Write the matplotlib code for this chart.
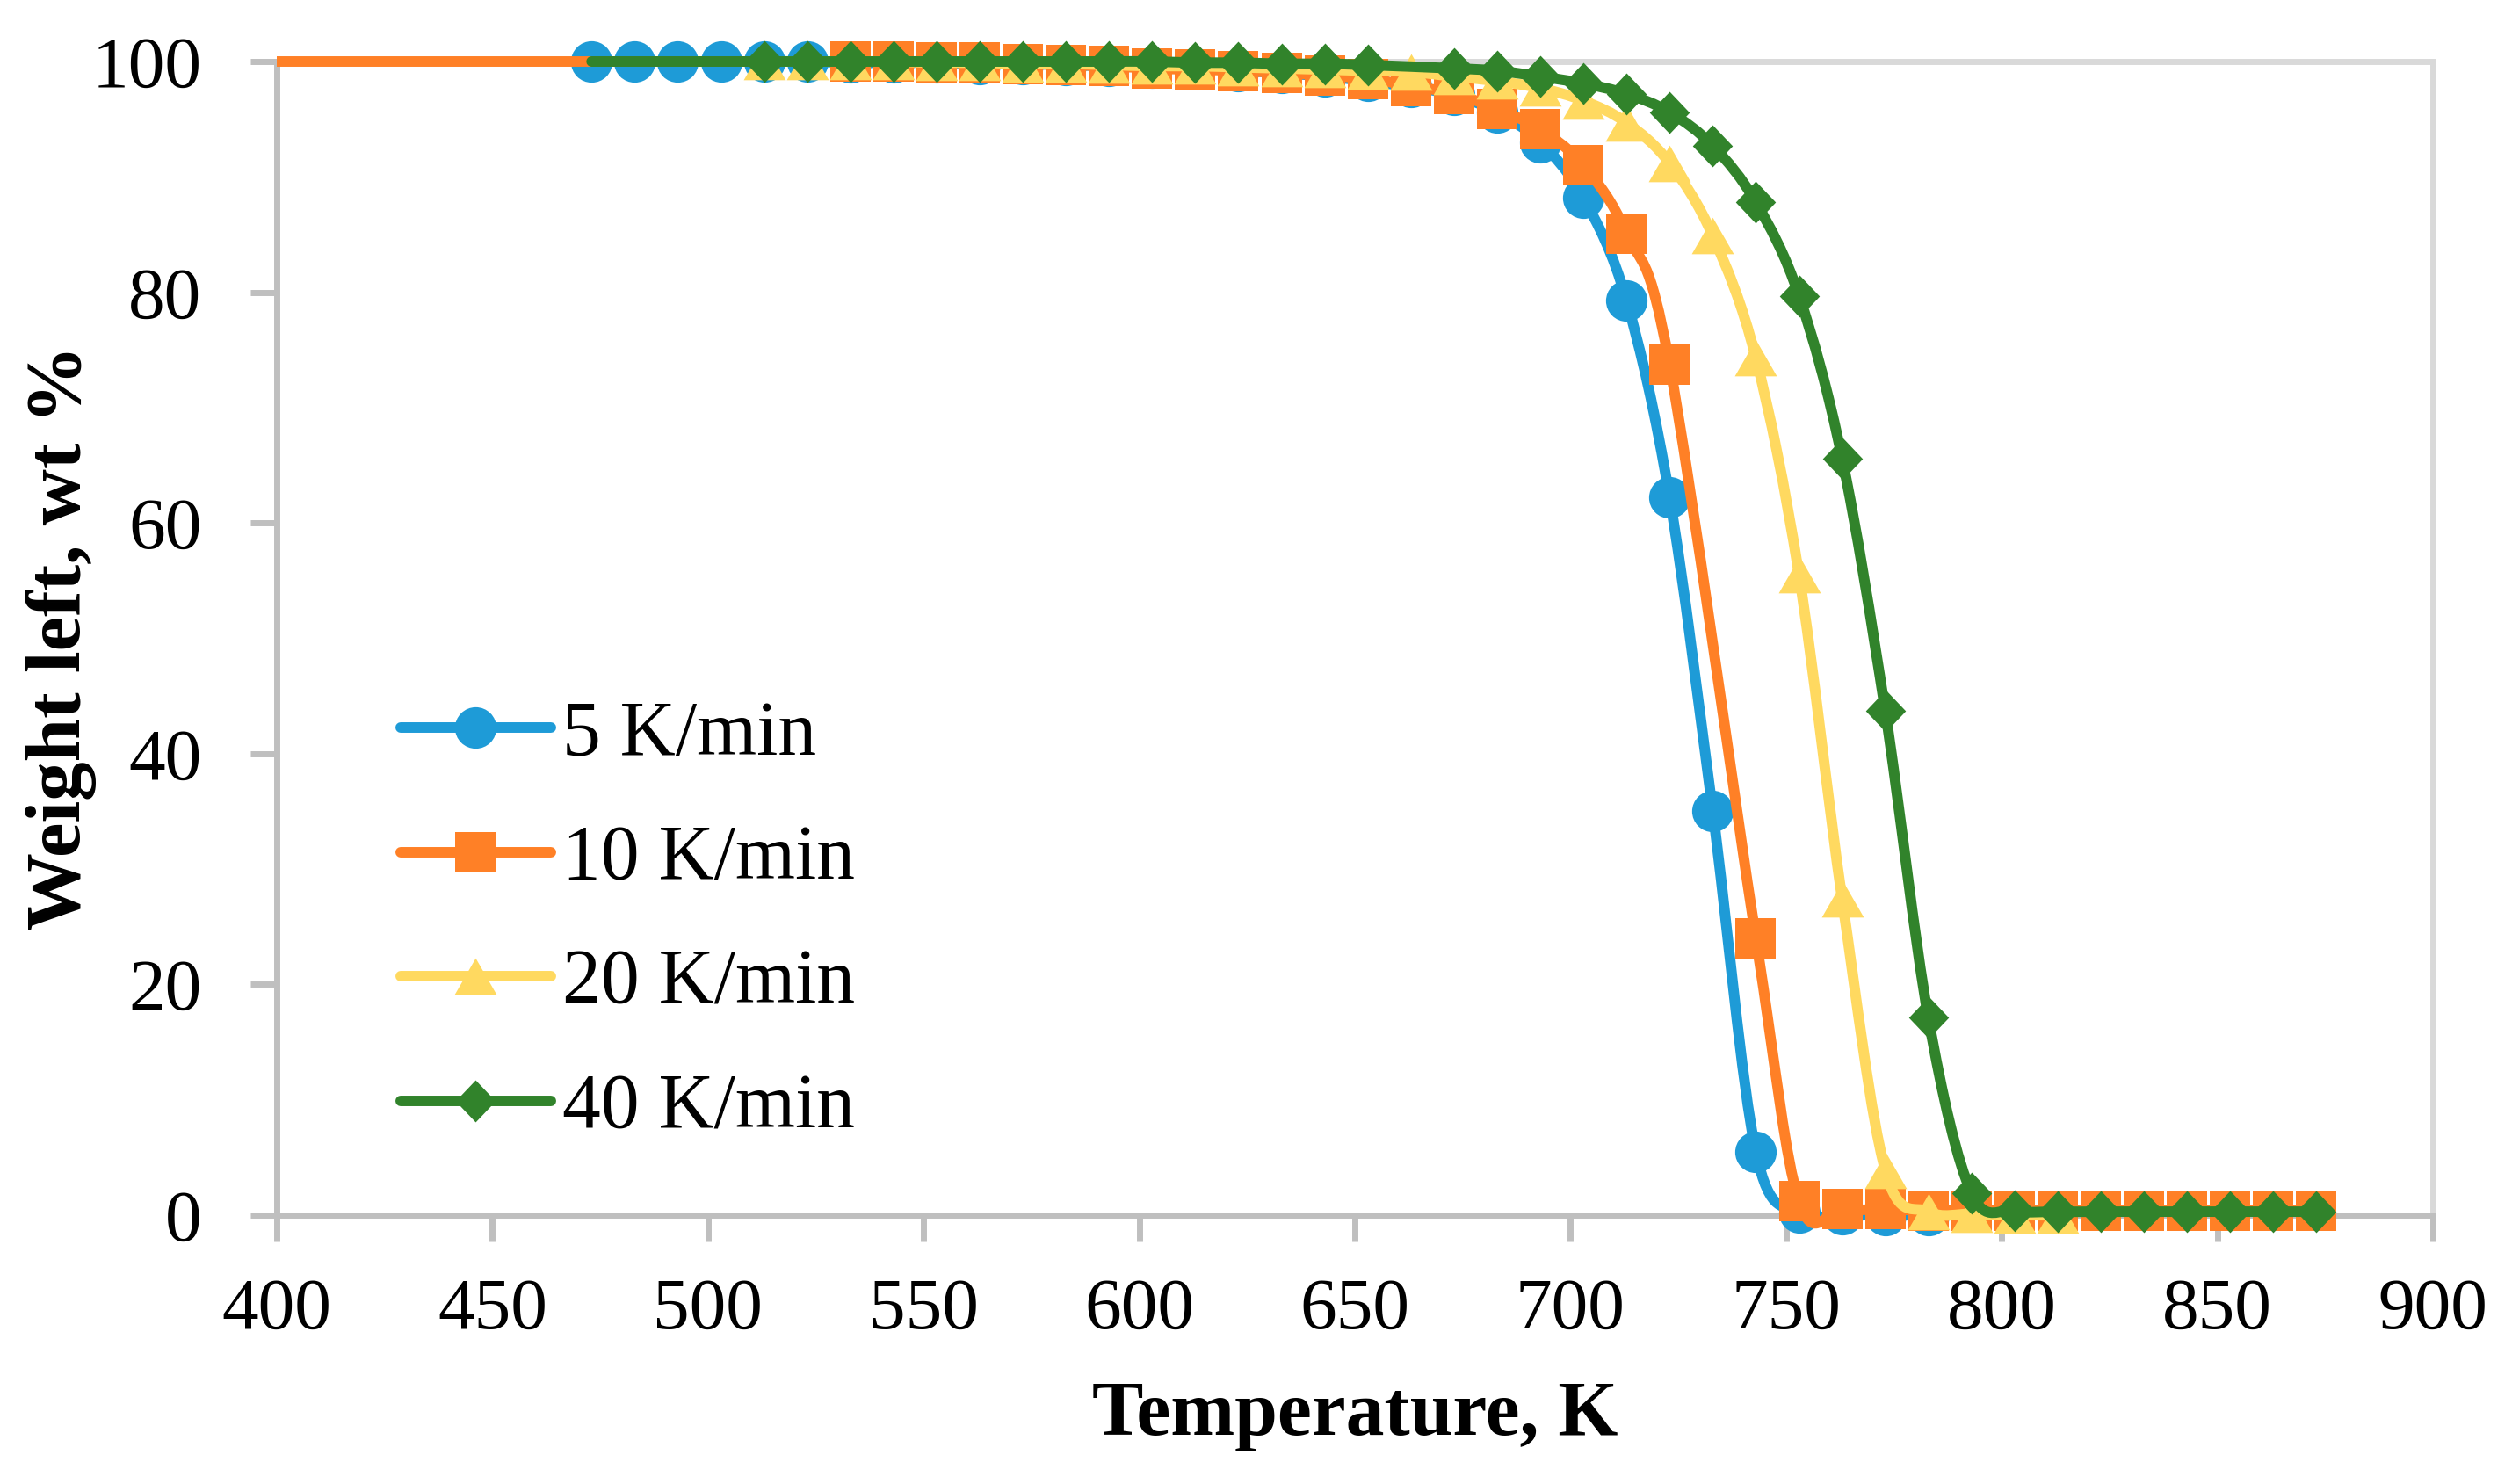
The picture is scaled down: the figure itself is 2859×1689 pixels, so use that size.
import numpy as np
import matplotlib
matplotlib.use("Agg")
import matplotlib.pyplot as plt
from matplotlib.path import Path
from matplotlib.patches import PathPatch, Rectangle
from matplotlib.lines import Line2D

plt.rcParams['font.family'] = ['Liberation Serif', 'DejaVu Serif']

# ---------------- data ----------------
labels = ["5 K/min", "10 K/min", "20 K/min", "40 K/min"]

t5 = [473, 483, 493, 503, 513, 523, 533, 543, 553, 563, 573, 583, 593, 603, 613,
      623, 633, 643, 653, 663, 673, 683, 693, 703, 713, 723, 733, 743, 753, 763,
      773, 783]
w5 = [100, 100, 100, 100, 100, 100, 99.9, 99.9, 99.9, 99.8, 99.8, 99.7, 99.6, 99.5,
      99.4, 99.2, 99.0, 98.7, 98.3, 97.8, 97.1, 95.6, 93.0, 88.2, 79.3, 62.2, 35.0,
      5.5, 0.2, 0.1, 0.0, 0.0]

t10 = [303, 533, 543, 553, 563, 573, 583, 593, 603, 613, 623, 633, 643, 653, 663,
       673, 683, 693, 703, 713, 723, 743, 753, 763, 773, 783, 793, 803, 813, 823,
       833, 843, 853, 863, 873]
w10 = [100, 100, 100, 99.9, 99.9, 99.8, 99.7, 99.6, 99.4, 99.3, 99.2, 99.0, 98.8,
       98.5, 97.9, 97.2, 95.9, 94.1, 91.0, 85.1, 73.7, 24.0, 1.2, 0.5, 0.5, 0.4, 0.4,
       0.4, 0.4, 0.4, 0.4, 0.4, 0.4, 0.4, 0.4]

t20 = [513, 523, 533, 543, 553, 563, 573, 583, 593, 603, 613, 623, 633, 643, 653,
       663, 673, 683, 693, 703, 713, 723, 733, 743, 753, 763, 773, 783, 793, 803, 813]
w20 = [100, 100, 100, 100, 99.9, 99.9, 99.8, 99.8, 99.7, 99.6, 99.6, 99.5, 99.4,
       99.3, 99.2, 99.1, 98.7, 98.3, 97.7, 96.6, 94.7, 91.2, 84.9, 74.3, 55.5, 27.4,
       3.9, 0.3, 0.1, 0.0, 0.0]

t40 = [473, 513, 523, 533, 543, 553, 563, 573, 583, 593, 603, 613, 623, 633, 643,
       653, 673, 683, 693, 703, 713, 723, 733, 743, 753, 763, 773, 783, 793, 803,
       813, 823, 833, 843, 853, 863, 873]
w40 = [100, 100, 100, 100, 100, 100, 100, 100, 100, 100, 100, 99.9, 99.9, 99.8,
       99.8, 99.7, 99.4, 99.2, 98.7, 98.1, 97.2, 95.6, 92.7, 87.8, 79.7, 65.6, 43.7,
       17.1, 1.9, 0.4, 0.3, 0.3, 0.3, 0.3, 0.3, 0.3, 0.3]

# first point of the 10 and 40 K/min series carries no marker
first_marked = [0, 1, 0, 1]

x_ticks = [400, 450, 500, 550, 600, 650, 700, 750, 800, 850, 900]
y_ticks = [0, 20, 40, 60, 80, 100]

# ---------------- style ----------------
colors = ["#1E9BD7", "#FF8026", "#FFD960", "#31832B"]
diamond = Path([(0, 1), (0.95, 0), (0, -1), (-0.95, 0), (0, 1)],
               [Path.MOVETO, Path.LINETO, Path.LINETO, Path.LINETO, Path.CLOSEPOLY])
triangle = Path([(-1, -0.87), (1, -0.87), (0, 0.87), (-1, -0.87)],
                [Path.MOVETO, Path.LINETO, Path.LINETO, Path.CLOSEPOLY])
markers = ["o", "s", triangle, diamond]
msizes = [34, 33, 34.5, 34.5]
LW = 8.6
FS = 60
FS_LAB = 63
AX_GREY = "#BFBFBF"
BORDER_GREY = "#D9D9D9"


def smooth_path(x, y):
    pts = np.column_stack([np.asarray(x, float), np.asarray(y, float)])
    n = len(pts)
    verts = [pts[0]]
    codes = [Path.MOVETO]
    for i in range(n - 1):
        p0 = pts[i - 1] if i > 0 else pts[i]
        p1 = pts[i]
        p2 = pts[i + 1]
        p3 = pts[i + 2] if i + 2 < n else pts[i + 1]
        c1 = p1 + (p2 - p0) / 6.0
        c2 = p2 - (p3 - p1) / 6.0
        verts += [c1, c2, p2]
        codes += [Path.CURVE4] * 3
    return Path(verts, codes)


fig = plt.figure(figsize=(28.59, 16.89), dpi=100)
ax = fig.add_axes([315 / 2859, 1 - 1383 / 1689, (2769 - 315) / 2859, (1383 - 70) / 1689])
ax.set_xlim(400, 900)
ax.set_ylim(0, 100)

series = [(t5, w5), (t10, w10), (t20, w20), (t40, w40)]
clip_rect = Rectangle((400, -20), 500, 140, transform=ax.transData)
for k, (t, w) in enumerate(series):
    z = 3 + k
    patch = PathPatch(smooth_path(t, w), facecolor="none", edgecolor=colors[k],
                      lw=LW, capstyle="round", joinstyle="round", zorder=z)
    ax.add_patch(patch)
    patch.set_clip_path(clip_rect)
    s = first_marked[k]
    ax.plot(t[s:], w[s:], linestyle="none", marker=markers[k], ms=msizes[k],
            mfc=colors[k], mec=colors[k], mew=0, zorder=z + 0.5, clip_on=False)

# spines
for side in ["left", "bottom"]:
    ax.spines[side].set_color(AX_GREY)
    ax.spines[side].set_linewidth(5)
    ax.spines[side].set_zorder(1)
for side in ["top", "right"]:
    ax.spines[side].set_color(BORDER_GREY)
    ax.spines[side].set_linewidth(5)
    ax.spines[side].set_zorder(1)

ax.set_xticks(x_ticks)
ax.set_yticks(y_ticks)
ax.tick_params(axis="both", direction="out", length=21.5, width=5, color=AX_GREY,
               labelsize=FS, labelcolor="black")
ax.tick_params(axis="x", pad=30)
ax.tick_params(axis="y", pad=40)

fig.text(1542 / 2859, 1 - 1612 / 1689, "Temperature, K", ha="center", va="center",
         fontsize=FS_LAB, fontweight="bold")
fig.text(70 / 2859, 1 - 726 / 1689, "Weight left, wt %", ha="center", va="center",
         rotation=90, fontsize=FS_LAB + 1, fontweight="bold")

handles = [Line2D([], [], color=colors[k], lw=LW, marker=markers[k], ms=msizes[k],
                  mfc=colors[k], mec=colors[k], mew=0, solid_capstyle="round")
           for k in range(4)]
ax.legend(handles, labels, loc="upper left", bbox_to_anchor=(456 / 2859, 1 - 797 / 1689),
          bbox_transform=fig.transFigure, frameon=False, fontsize=FS_LAB,
          handlelength=1.95, handletextpad=0.15, labelspacing=0.69,
          borderpad=0, borderaxespad=0)

fig.savefig("out.png", dpi=100)
